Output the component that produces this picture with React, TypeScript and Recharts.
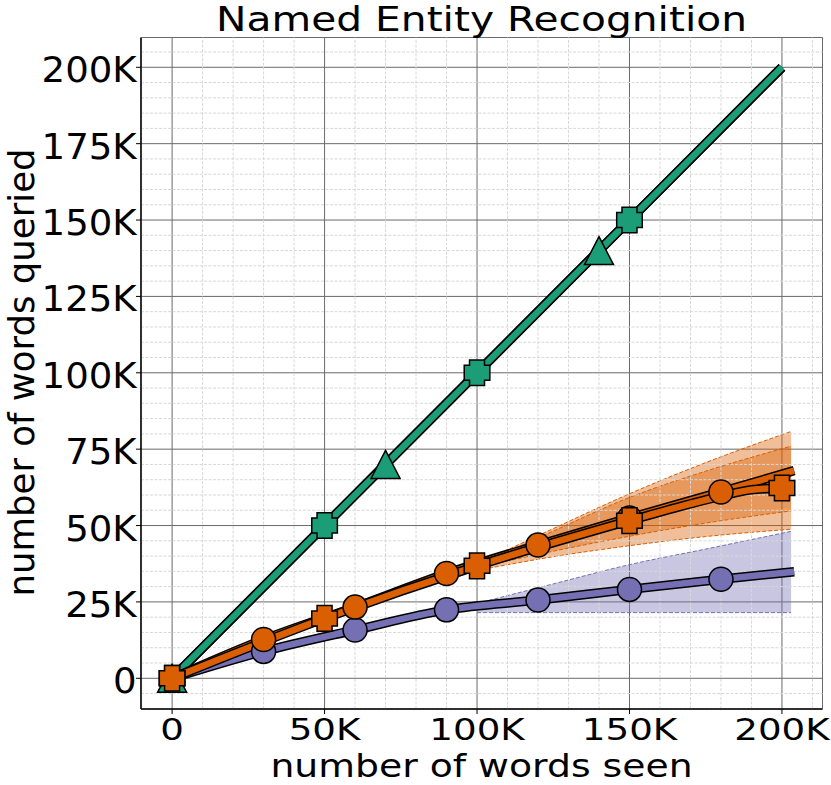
import React from "react";
import { ComposedChart, Line, Area, XAxis, YAxis, CartesianGrid, ReferenceLine } from "recharts";

// all values in thousands of words
const xTicks = [0, 50, 100, 150, 200];
const yTicks = [0, 25, 50, 75, 100, 125, 150, 175, 200];
const xMinorTicks = [-10, 10, 20, 30, 40, 60, 70, 80, 90, 110, 120, 130, 140, 160, 170, 180, 190, 210];
const yMinorTicks = [
  -10, -5, 5, 10, 15, 20, 30, 35, 40, 45, 55, 60, 65, 70, 80, 85, 90, 95,
  105, 110, 115, 120, 130, 135, 140, 145, 155, 160, 165, 170, 180, 185, 190, 195, 205,
];

const greenTriX = [0, 70, 140, 200];
const greenTriY = [0, 70, 140, 200];
const greenPlusX = [0, 50, 100, 150, 200];
const greenPlusY = [0, 50, 100, 150, 200];
const greenPlusMarks = [0, 50, 100, 150];

const purpleX = [0, 30, 60, 90, 120, 150, 180, 204];
const purpleY = [0, 8.8, 15.8, 22.4, 25.6, 29.1, 32.4, 34.9];

const orangeCircX = [0, 30, 60, 90, 120, 150, 180, 204];
const orangeCircY = [0, 12.7, 23.3, 34.3, 43.6, 52.5, 61, 68];

const orangePlusX = [0, 50, 100, 150, 165, 180, 190, 200];
const orangePlusY = [0, 19.6, 36.8, 51.6, 55.8, 59.6, 61.7, 62.3];
const orangePlusMarks = [0, 50, 100, 150, 200];

const bandX = [100, 125, 150, 175, 203];
const purpleBandLo = [21.5, 21.5, 21.5, 21.5, 21.5];
const purpleBandHi = [24.5, 30.9, 37.2, 42.3, 48.1];
const orangeOuterLo = [35.3, 39.8, 43.4, 46.4, 48.8];
const orangeOuterHi = [37.4, 49.0, 60.4, 70.6, 80.8];
const orangeInnerLo = [36.2, 41.6, 46.5, 50.8, 54.8];
const orangeInnerHi = [37.0, 48.2, 59.2, 67.8, 76.0];

const GREEN = "#1b9e77";
const ORANGE = "#d95f02";
const PURPLE = "#7570b3";
const FONT = "DejaVu Sans";

const X_DOMAIN: [number, number] = [-10.2, 213.3];
const Y_DOMAIN: [number, number] = [-10.05, 209.75];

const pts = (xs: number[], ys: number[]) => xs.map((x, i) => ({ x, y: ys[i] }));
const band = (xs: number[], lo: number[], hi: number[]) =>
  xs.map((x, i) => ({ x, range: [lo[i], hi[i]] }));

const fmt = (v: number) => (v === 0 ? "0" : `${v}K`);

const XTick = (p: any) => (
  <g transform={`translate(${p.x},${p.y + 24}) scale(1.2,1)`}>
    <text x={0} y={0} textAnchor="middle" fontFamily={FONT} fontSize={31} fill="#000">
      {fmt(p.payload.value)}
    </text>
  </g>
);

const YTick = (p: any) => (
  <g transform={`translate(${p.x + 2.7},${p.y + 15}) scale(1.06,1)`}>
    <text x={0} y={0} textAnchor="end" fontFamily={FONT} fontSize={35} fill="#000">
      {fmt(p.payload.value)}
    </text>
  </g>
);

const empty = (k: string) => <g key={k} />;

const circleDot = (color: string, n: number) => (p: any) => {
  const { cx, cy, index } = p;
  if (cx == null || index === 0 || index === n - 1) return empty(`e${index}`);
  return <circle key={`c${index}`} cx={cx} cy={cy} r={12} fill={color} stroke="#000" strokeWidth={1.5} />;
};

const A = 7.5;
const H = 12.8;
const plusPath =
  `M${-A},${-H}L${A},${-H}L${A},${-A}L${H},${-A}L${H},${A}L${A},${A}L${A},${H}` +
  `L${-A},${H}L${-A},${A}L${-H},${A}L${-H},${-A}L${-A},${-A}Z`;

const plusDot = (color: string, marks: number[]) => (p: any) => {
  const { cx, cy, index, payload } = p;
  if (cx == null || !marks.includes(payload.x)) return empty(`e${index}`);
  return (
    <path key={`p${index}`} d={plusPath} transform={`translate(${cx},${cy})`} fill={color} stroke="#000" strokeWidth={1.5} />
  );
};

const triDot = (color: string, n: number) => (p: any) => {
  const { cx, cy, index } = p;
  if (cx == null || index === n - 1) return empty(`e${index}`);
  return (
    <path key={`t${index}`} d="M0,-14L14.5,14L-14.5,14Z" transform={`translate(${cx},${cy})`} fill={color} stroke="#000" strokeWidth={1.5} />
  );
};

export default function App() {
  const lineCommon = {
    dataKey: "y",
    isAnimationActive: false,
    activeDot: false as const,
    strokeLinejoin: "round" as const,
  };
  let z = 401;
  const outline = (key: string, data: any[], type: any) => (
    <Line key={key} {...lineCommon} zIndex={z++} data={data} type={type} stroke="#000" strokeWidth={9.5} dot={false} />
  );
  const colored = (key: string, data: any[], type: any, color: string, dot: any) => (
    <Line key={key} {...lineCommon} zIndex={z++} data={data} type={type} stroke={color} strokeWidth={6.5} dot={dot} />
  );
  const bandArea = (key: string, data: any[], color: string) => (
    <Area
      key={key}
      data={data}
      dataKey="range"
      type="monotone"
      fill={color}
      fillOpacity={0.4}
      stroke={color}
      strokeWidth={1}
      strokeDasharray="4 2"
      isAnimationActive={false}
      activeDot={false}
    />
  );

  const greenPlus = pts(greenPlusX, greenPlusY);
  const greenTri = pts(greenTriX, greenTriY);
  const purple = pts(purpleX, purpleY);
  const orangeCirc = pts(orangeCircX, orangeCircY);
  const orangePlus = pts(orangePlusX, orangePlusY);

  return (
    <div style={{ position: "absolute", left: 0, top: 0, width: 831, height: 785, background: "#fff" }}>
      <ComposedChart width={831} height={785} margin={{ top: 37.5, right: 8.5, bottom: 36, left: 0 }}>
        <XAxis
          xAxisId="top"
          orientation="top"
          type="number"
          dataKey="x"
          domain={X_DOMAIN}
          allowDataOverflow
          height={0}
          tick={false}
          tickLine={false}
          axisLine={{ stroke: "#000", strokeWidth: 1.5 }}
        />
        <YAxis
          yAxisId="right"
          orientation="right"
          type="number"
          domain={Y_DOMAIN}
          allowDataOverflow
          width={0}
          tick={false}
          tickLine={false}
          axisLine={{ stroke: "#000", strokeWidth: 1.5 }}
        />
        {xMinorTicks.map((v) => (
          <ReferenceLine key={`mx${v}`} x={v} stroke="#d8d8d8" strokeDasharray="3 1.5" strokeWidth={1} />
        ))}
        {yMinorTicks.map((v) => (
          <ReferenceLine key={`my${v}`} y={v} stroke="#d8d8d8" strokeDasharray="3 1.5" strokeWidth={1} />
        ))}
        <CartesianGrid stroke="#6a6a6a" />
        <XAxis
          type="number"
          dataKey="x"
          domain={X_DOMAIN}
          ticks={xTicks}
          allowDataOverflow
          interval={0}
          height={40}
          tickSize={5}
          tickMargin={2}
          tick={(p: any) => <XTick {...p} />}
          tickLine={{ stroke: "#000" }}
          axisLine={{ stroke: "#000", strokeWidth: 1.5 }}
        />
        <YAxis
          type="number"
          domain={Y_DOMAIN}
          ticks={yTicks}
          allowDataOverflow
          interval={0}
          width={141}
          tickSize={5}
          tickMargin={2}
          tick={(p: any) => <YTick {...p} />}
          tickLine={{ stroke: "#000" }}
          axisLine={{ stroke: "#000", strokeWidth: 1.5 }}
        />

        {bandArea("pb", band(bandX, purpleBandLo, purpleBandHi), PURPLE)}
        {bandArea("ob1", band(bandX, orangeOuterLo, orangeOuterHi), ORANGE)}
        {bandArea("ob2", band(bandX, orangeInnerLo, orangeInnerHi), ORANGE)}

        {outline("gpo", greenPlus, "linear")}
        {colored("gpc", greenPlus, "linear", GREEN, plusDot(GREEN, greenPlusMarks))}
        {outline("gto", greenTri, "linear")}
        {colored("gtc", greenTri, "linear", GREEN, triDot(GREEN, greenTri.length))}
        {outline("puo", purple, "monotone")}
        {colored("puc", purple, "monotone", PURPLE, circleDot(PURPLE, purple.length))}
        {outline("oco", orangeCirc, "monotone")}
        {colored("occ", orangeCirc, "monotone", ORANGE, circleDot(ORANGE, orangeCirc.length))}
        {outline("opo", orangePlus, "monotone")}
        {colored("opc", orangePlus, "monotone", ORANGE, plusDot(ORANGE, orangePlusMarks))}
      </ComposedChart>

      <svg width={831} height={785} style={{ position: "absolute", left: 0, top: 0, pointerEvents: "none" }}>
        <g transform="translate(481.5,30.5) scale(1.235,1)">
          <text textAnchor="middle" fontFamily={FONT} fontSize={33} fill="#000">
            Named Entity Recognition
          </text>
        </g>
        <g transform="translate(481.5,777) scale(1.18,1)">
          <text textAnchor="middle" fontFamily={FONT} fontSize={32} fill="#000">
            number of words seen
          </text>
        </g>
        <g transform="translate(34,372.5) rotate(-90)">
          <text textAnchor="middle" fontFamily={FONT} fontSize={35.5} fill="#000">
            number of words queried
          </text>
        </g>
      </svg>
    </div>
  );
}
